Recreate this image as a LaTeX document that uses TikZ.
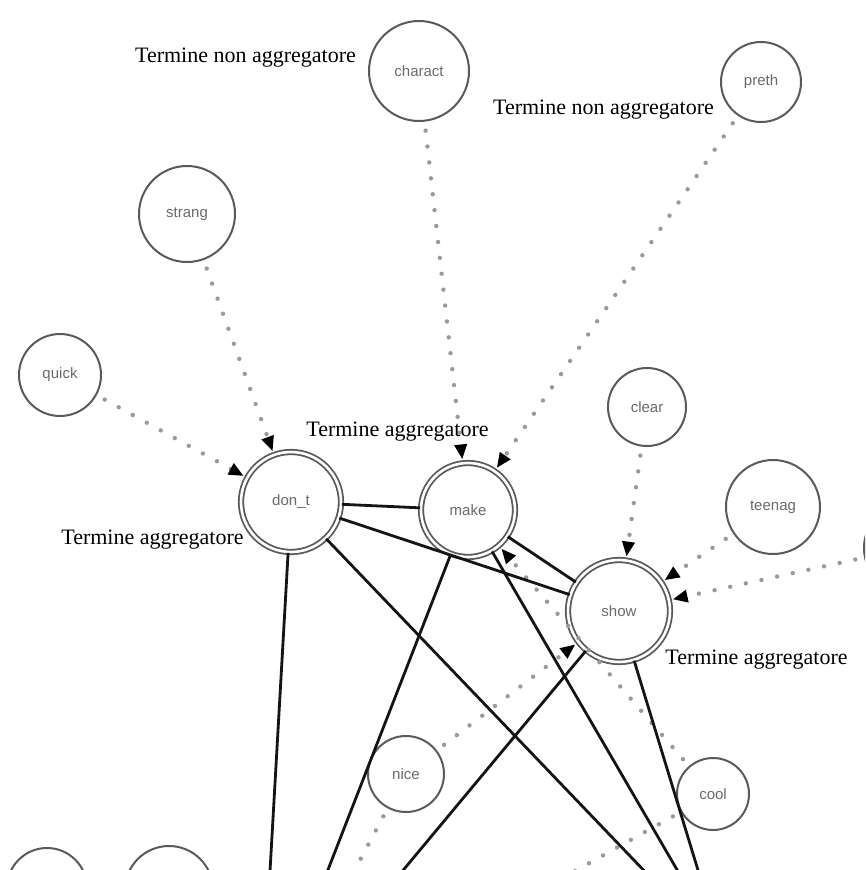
\documentclass[tikz,border=0pt]{standalone}
\usepackage{fontspec}
\setmainfont{Liberation Serif}
\newfontfamily\termfont{Liberation Sans}
\usetikzlibrary{arrows.meta}
\definecolor{ringgray}{HTML}{5A5A5A}
\definecolor{termgray}{HTML}{6A6A6A}
\definecolor{dotgray}{HTML}{9A9A9A}
\begin{document}
\begin{tikzpicture}[x=1pt,y=-1pt,
  term/.style={circle, draw=ringgray, line width=2pt, fill=white, inner sep=0pt,
    minimum size=#1, text=termgray, font=\termfont\fontsize{15}{15}\selectfont},
  aggr/.style={circle, draw=ringgray, line width=1.8pt, double=white,
    double distance=2.6pt, fill=white, inner sep=0pt, minimum size=#1,
    text=termgray, font=\termfont\fontsize{15}{15}\selectfont},
  caption/.style={font=\fontsize{22}{24}\selectfont, text=black, inner sep=0pt},
  dotedge/.style={draw=dotgray, line width=4.4pt, line cap=round,
    dash pattern=on 0pt off 16pt, shorten <=9pt},
  tip/.style={-{Triangle[length=15pt,width=12pt,color=black]}},
  toaggr/.style={dotedge, tip, shorten >=3pt},
  solidedge/.style={draw=black!92, line width=2.8pt}
]
\clip (0,0) rectangle (865,870);
\fill[white] (0,0) rectangle (865,870);

% ordinary terms
\node[term=100pt] (charact) at (419,71)  {charact};
\node[term=80pt]  (preth)   at (761,82)  {preth};
\node[term=96pt]  (strang)  at (187,214) {strang};
\node[term=82pt]  (quick)   at (60,375)  {quick};
\node[term=78pt]  (clear)   at (647,407) {clear};
\node[term=94pt]  (teenag)  at (773,507) {teenag};
\node[term=76pt]  (nice)    at (406,774) {nice};
\node[term=72pt]  (cool)    at (713,794) {cool};
\node[term=88pt]  (rnode)   at (908,548) {};
\node[term=80pt]  (bla)     at (47,888)  {};
\node[term=88pt]  (blb)     at (169,890) {};

% aggregating terms
\node[aggr=100pt] (dont) at (291,502) {don\_t};
\node[aggr=94pt]  (make) at (468,510) {make};
\node[aggr=102pt] (show) at (619,611) {show};

% loose ends of edges leaving the frame
\coordinate (c1) at (269.5,880);
\coordinate (c2) at (653,880);
\coordinate (c3) at (324,880);
\coordinate (c4) at (395,880);
\coordinate (c5) at (683,880);
\coordinate (c6) at (701,880);
\coordinate (c7) at (344,890);
\coordinate (c8) at (541,890);

% dotted links towards aggregating terms
\draw[toaggr] (quick)   -- (dont);
\draw[toaggr] (strang)  -- (dont);
\draw[toaggr] (charact) -- (make);
\draw[toaggr] (preth)   -- (make);
\draw[toaggr] (cool)    -- (make);
\draw[toaggr] (clear)   -- (show);
\draw[toaggr] (teenag)  -- (show);
\draw[toaggr] (rnode)   -- (show);
\draw[toaggr] (nice)    -- (show);
\draw[dotedge] (nice) -- (c7);
\draw[dotedge] (cool) -- (c8);

% solid links between aggregating terms
\draw[solidedge] (dont) -- (make);
\draw[solidedge] (dont) -- (show);
\draw[solidedge] (make) -- (show);
\draw[solidedge] (dont) -- (c1);
\draw[solidedge] (dont) -- (c2);
\draw[solidedge] (make) -- (c3);
\draw[solidedge] (make) -- (c5);
\draw[solidedge] (show) -- (c4);
\draw[solidedge] (show) -- (c6);

% captions
\node[caption] (cap1) at (245.5,58)  {Termine non aggregatore};
\node[caption] (cap2) at (603.5,110) {Termine non aggregatore};
\node[caption] (cap3) at (397.5,432) {Termine aggregatore};
\node[caption] (cap4) at (152.5,540) {Termine aggregatore};
\node[caption] (cap5) at (756.5,660) {Termine aggregatore};
\end{tikzpicture}
\end{document}
